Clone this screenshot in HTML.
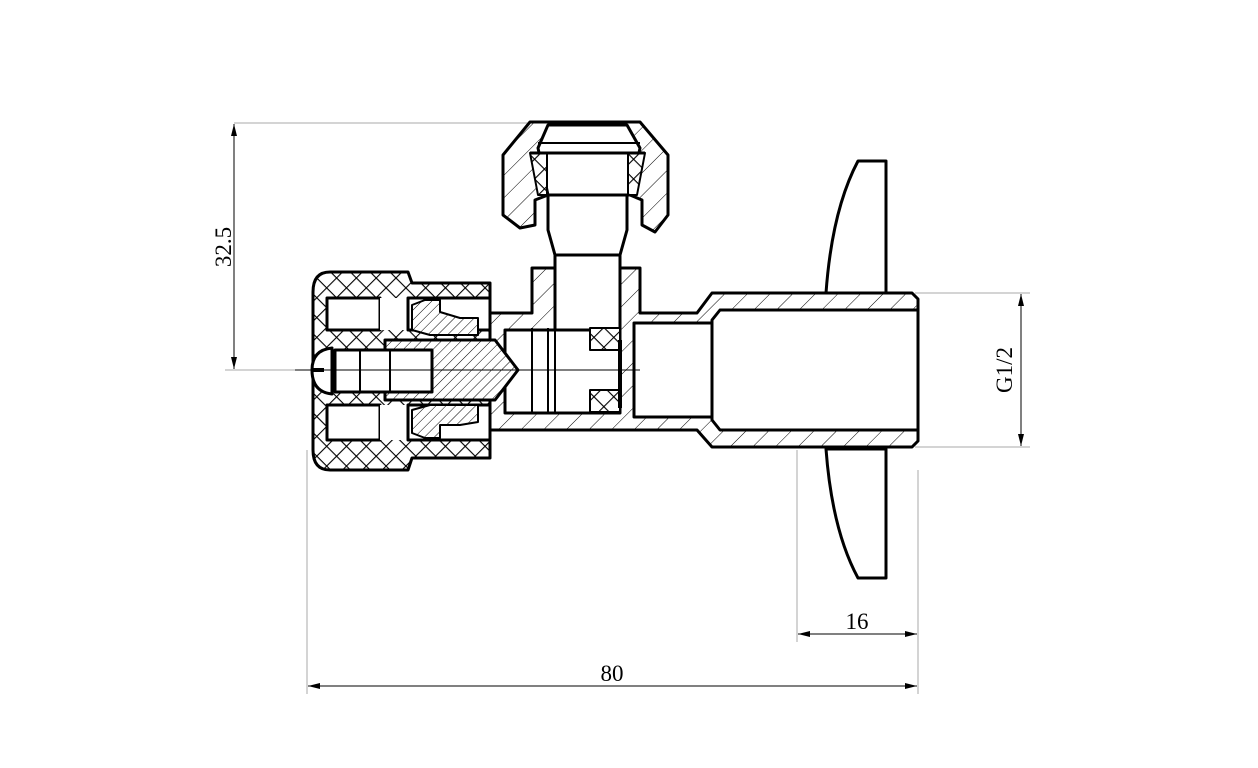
<!DOCTYPE html>
<html><head><meta charset="utf-8"><style>
html,body{margin:0;padding:0;background:#fff;width:1258px;height:768px;overflow:hidden}
svg{display:block}
text{font-family:"Liberation Serif",serif;font-size:23px;fill:#000}
</style></head><body>
<svg width="1258" height="768" viewBox="0 0 1258 768" xmlns="http://www.w3.org/2000/svg">
<defs>
<pattern id="xh" width="14" height="14" patternUnits="userSpaceOnUse" patternTransform="rotate(45)">
<rect width="14" height="14" fill="#fff"/><path d="M0 0H14M0 0V14" stroke="#000" stroke-width="2.2"/></pattern>
<pattern id="hh" width="16" height="16" patternUnits="userSpaceOnUse" patternTransform="rotate(-45)">
<rect width="16" height="16" fill="#fff"/><path d="M0 0H16" stroke="#000" stroke-width="1"/></pattern>
<pattern id="hf" width="7" height="7" patternUnits="userSpaceOnUse" patternTransform="rotate(-45)">
<rect width="7" height="7" fill="#fff"/><path d="M0 0H7" stroke="#000" stroke-width="1"/></pattern>
<marker id="ar" markerWidth="12" markerHeight="8" refX="12" refY="4" orient="auto" markerUnits="userSpaceOnUse">
<path d="M0 1L12 4L0 7Z" fill="#000"/></marker>
</defs>
<g stroke="#aaa" stroke-width="1" fill="none">
<line x1="234" y1="123" x2="545" y2="123"/>
<line x1="225" y1="370" x2="330" y2="370"/>
<line x1="915" y1="293" x2="1030" y2="293"/>
<line x1="915" y1="447" x2="1030" y2="447"/>
<line x1="797" y1="450" x2="797" y2="642"/>
<line x1="918" y1="470" x2="918" y2="694"/>
<line x1="307" y1="450" x2="307" y2="694"/>
</g>
<g stroke="#000" stroke-width="1" fill="none">
<line x1="234" y1="246" x2="234" y2="124" marker-end="url(#ar)"/>
<line x1="234" y1="246" x2="234" y2="369" marker-end="url(#ar)"/>
<line x1="1021" y1="370" x2="1021" y2="294" marker-end="url(#ar)"/>
<line x1="1021" y1="370" x2="1021" y2="446" marker-end="url(#ar)"/>
<line x1="857" y1="634" x2="798" y2="634" marker-end="url(#ar)"/>
<line x1="857" y1="634" x2="917" y2="634" marker-end="url(#ar)"/>
<line x1="612" y1="686" x2="308" y2="686" marker-end="url(#ar)"/>
<line x1="612" y1="686" x2="917" y2="686" marker-end="url(#ar)"/>
</g>
<text transform="translate(231,247) rotate(-90)" text-anchor="middle">32.5</text>
<text transform="translate(1012,370) rotate(-90)" text-anchor="middle">G1/2</text>
<text x="857" y="629" text-anchor="middle">16</text>
<text x="612" y="681" text-anchor="middle">80</text>

<g stroke="#000" stroke-width="3" stroke-linejoin="round">
<!-- hand wheel -->
<path d="M858 161H886V293H826Q832 210 858 161Z" fill="#fff"/>
<path d="M858 578H886V449H826Q832 530 858 578Z" fill="#fff"/>
<!-- main body -->
<path d="M490 313H532V268H640V313H697L712 293H912L918 299V441L912 447H712L697 430H490Z" fill="url(#hh)"/>
<!-- right bore -->
<path d="M720 310H918V430H720L712 420V320Z" fill="#fff"/>
<path d="M634 323H712V417H634Z" fill="#fff"/>
<!-- stem bore -->
<path d="M555 255H620V330H555Z" fill="#fff"/>
<!-- nut -->
<path d="M503 155L530 122H640L668 155V215L655 232L642 225V200L630 195H548L535 200V225L520 228L503 215Z" fill="url(#hh)"/>
<path d="M548 125H627V125L640 148L630 195H548L538 148Z" fill="#fff"/>
<path d="M548 195H627V230L620 255H555L548 230Z" fill="#fff"/>
<path d="M530 153L547 153L547 195L538 195ZM645 153L628 153L628 195L637 195Z" fill="url(#xh)" stroke-width="2"/>
<line x1="530" y1="153" x2="645" y2="153"/>
<line x1="538" y1="143" x2="640" y2="143" stroke-width="2"/>
<!-- inner cartridge -->
<path d="M505 330H620V413H505Z" fill="#fff"/>
<path d="M590 328H620V350H590ZM590 390H620V412H590Z" fill="url(#xh)" stroke-width="2"/>
<line x1="532" y1="328" x2="532" y2="413" stroke-width="2"/>
<line x1="548" y1="328" x2="548" y2="413" stroke-width="2"/>
<line x1="555" y1="328" x2="555" y2="413" stroke-width="2"/>
<line x1="620" y1="340" x2="620" y2="408" stroke-width="4"/>
<!-- handle cap -->
<path d="M330 272H408L412 283H490V458H412L408 470H330Q313 470 313 450V292Q313 272 330 272Z" fill="url(#xh)"/>
<path d="M327 298H380V330H327ZM327 405H380V440H327Z" fill="#fff"/>
<path d="M380 298H408V330H380ZM380 405H408V440H380Z" fill="#fff" stroke-width="0"/>
<path d="M408 298H490V330H408ZM408 405H490V440H408Z" fill="#fff"/>
<!-- spindle sleeve -->
<path d="M385 340H495L518 370L495 400H385Z" fill="url(#hf)"/>
<path d="M335 350H432V392H335Z" fill="#fff"/>
<line x1="360" y1="350" x2="360" y2="392" stroke-width="2"/>
<line x1="390" y1="350" x2="390" y2="392" stroke-width="2"/>
<!-- screw head -->
<path d="M332 348Q312 350 312 370Q312 392 332 394Z" fill="#fff"/>
<line x1="312" y1="370" x2="324" y2="370" stroke-width="4"/>
<!-- gland nuts -->
<path d="M412 305L425 300H440V312L460 318H478V335H430L412 330Z" fill="url(#hf)" stroke-width="2"/>
<path d="M412 410L430 405H478V422L460 425H440V438H425L412 433Z" fill="url(#hf)" stroke-width="2"/>
</g>
<line x1="295" y1="370" x2="640" y2="370" stroke="#000" stroke-width="1"/>
</svg>
</body></html>
